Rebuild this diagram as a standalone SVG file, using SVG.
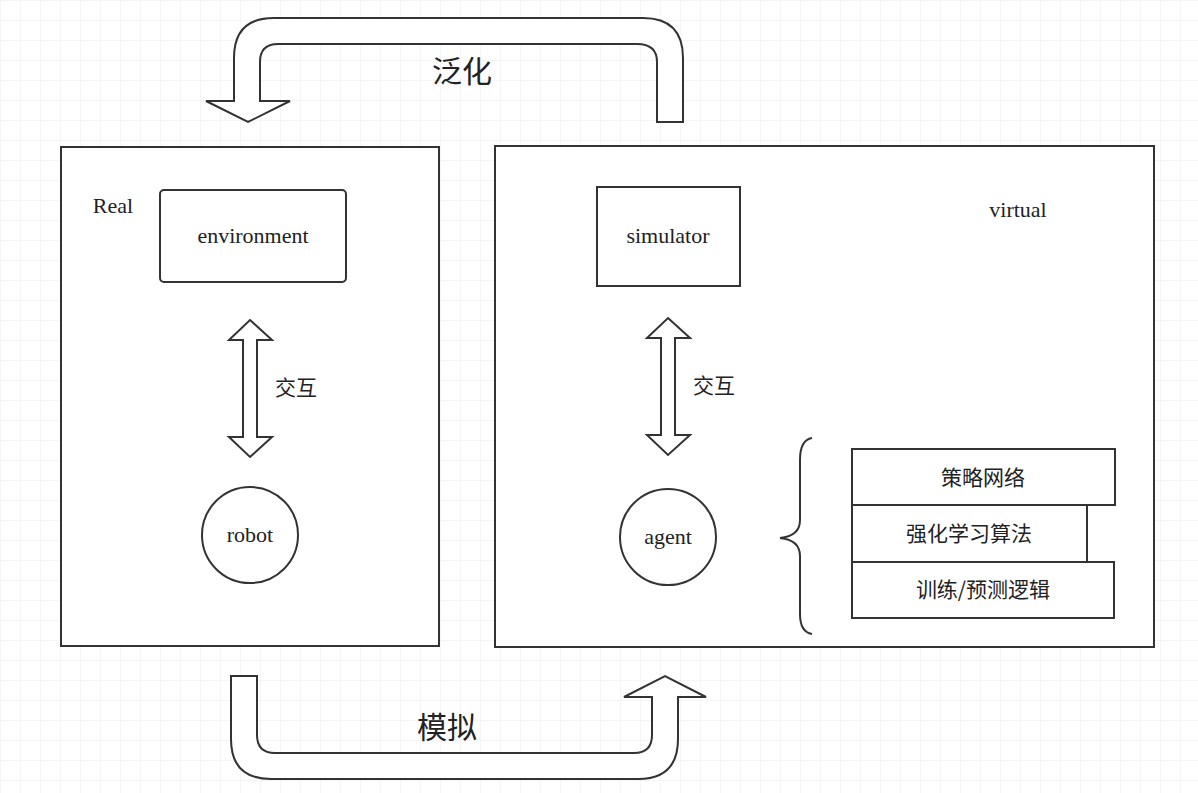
<svg xmlns="http://www.w3.org/2000/svg" width="1198" height="793" viewBox="0 0 1198 793">
<defs>
<pattern id="g" width="20" height="20" patternUnits="userSpaceOnUse"><path d="M20 0H0V20" fill="none" stroke="#ececec" stroke-width="1"/></pattern>
<style>
.s{fill:#fff;stroke:#333;stroke-width:2}
.t{font-family:"Liberation Serif",serif;font-size:22px;fill:#222;text-anchor:middle}
.c{font-family:"Noto Sans CJK SC",sans-serif;font-size:21px;fill:#222;text-anchor:middle}
</style>
</defs>
<rect width="1198" height="793" fill="#fff"/>
<rect width="1198" height="793" fill="url(#g)"/>
<g id="real"><rect class="s" x="61" y="147" width="378" height="499"/><text class="t" x="113" y="213">Real</text></g>
<g id="virtual"><rect class="s" x="495" y="146" width="659" height="501"/><text class="t" x="1018" y="217">virtual</text></g>
<g id="environment"><rect class="s" x="160" y="190" width="186" height="92" rx="4"/><text class="t" x="253" y="243">environment</text></g>
<g id="simulator"><rect class="s" x="597" y="187" width="143" height="99"/><text class="t" x="668" y="243">simulator</text></g>
<g id="robot"><circle class="s" cx="250" cy="535" r="48"/><text class="t" x="250" y="542">robot</text></g>
<g id="agent"><circle class="s" cx="668" cy="537" r="48"/><text class="t" x="668" y="544">agent</text></g>
<g id="policy"><rect class="s" x="852" y="449" width="263" height="56"/><text class="c" x="983" y="485">策略网络</text></g>
<g id="rl"><rect class="s" x="852" y="505" width="235" height="57"/><text class="c" x="969" y="541">强化学习算法</text></g>
<g id="logic"><rect class="s" x="852" y="562" width="262" height="56"/><text class="c" x="983" y="597">训练/预测逻辑</text></g>
<g id="connectors">
<path class="s" d="M657 122V62Q657 44 637 44H278Q260 44 260 62V101H290L248 122L206 101H234V58Q234 18 274 18H643Q683 18 683 58V122Z"/>
<path class="s" d="M231 676V739Q231 779 271 779H638Q678 779 678 739V697H706L665 676L624 697H652V735Q652 753 634 753H275Q257 753 257 735V676Z"/>
<path class="s" d="M250 320L272 340H257V437H272L250 457L229 437H243V340H229Z"/>
<path class="s" d="M668 318L690 338H675V435H690L668 455L647 435H661V338H647Z"/>
<path d="M812 438Q800 440 800 460V520Q800 536 780 538Q800 540 800 556V614Q800 632 812 634" fill="none" stroke="#333" stroke-width="2"/>
<text class="c" x="462" y="82" style="font-size:30px">泛化</text>
<text class="c" x="447" y="738" style="font-size:30px">模拟</text>
<text class="c" x="296" y="395">交互</text>
<text class="c" x="714" y="393">交互</text>
</g>
</svg>
